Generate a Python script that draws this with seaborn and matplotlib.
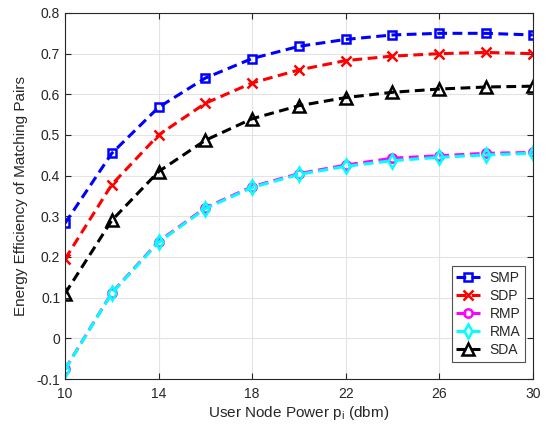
import numpy as np
import pandas as pd
import matplotlib
matplotlib.use("Agg")
import matplotlib.pyplot as plt
import seaborn as sns

power = [10, 12, 14, 16, 18, 20, 22, 24, 26, 28, 30]
smp = [0.283, 0.455, 0.568, 0.640, 0.688, 0.718, 0.735, 0.746, 0.750, 0.750, 0.746]
sdp = [0.195, 0.378, 0.500, 0.578, 0.628, 0.660, 0.683, 0.694, 0.700, 0.703, 0.700]
rmp = [-0.076, 0.112, 0.238, 0.321, 0.373, 0.405, 0.426, 0.443, 0.449, 0.455, 0.457]
rma = [-0.077, 0.111, 0.236, 0.319, 0.371, 0.403, 0.423, 0.437, 0.445, 0.451, 0.455]
sda = [0.110, 0.290, 0.410, 0.487, 0.540, 0.572, 0.592, 0.605, 0.613, 0.618, 0.620]

names = ["SMP", "SDP", "RMP", "RMA", "SDA"]
series = [smp, sdp, rmp, rma, sda]
colors = ["#0000ff", "#ff0000", "#ff00ff", "#00ffff", "#000000"]
markers = ["s", "x", "o", "d", "^"]
msizes = [6, 6.5, 6, 7, 8]

df = pd.concat(
    [pd.DataFrame({"power": power, "ee": v, "scheme": n}) for n, v in zip(names, series)],
    ignore_index=True,
)

sns.set_style("ticks")
plt.rcParams["font.family"] = ["Liberation Sans", "DejaVu Sans"]

fig = plt.figure(figsize=(5.51, 4.30), dpi=100)
ax = fig.add_axes([0.118, 0.1186, 0.849, 0.8512])

for n, c, m, ms in zip(names, colors, markers, msizes):
    sub = df[df["scheme"] == n]
    sns.lineplot(
        data=sub, x="power", y="ee", ax=ax, color=c, label=n,
        linestyle=(0, (3.2, 1.8)), linewidth=2.2,
        marker=m, markersize=ms, markerfacecolor="none",
        markeredgecolor=c, markeredgewidth=1.8, estimator=None,
    )

ax.set_xlim(10, 30)
ax.set_ylim(-0.1, 0.8)
ax.set_xticks([10, 14, 18, 22, 26, 30])
ax.set_yticks(np.round(np.arange(-0.1, 0.81, 0.1), 1))
ax.set_yticklabels(["-0.1", "0", "0.1", "0.2", "0.3", "0.4", "0.5", "0.6", "0.7", "0.8"])
ax.grid(True, color="#e3e3e3", linewidth=0.8)
ax.set_axisbelow(True)
for sp in ax.spines.values():
    sp.set_visible(True)
    sp.set_color("#262626")
    sp.set_linewidth(0.8)
ax.tick_params(direction="in", length=4, width=0.8, colors="#262626",
               labelsize=10, top=True, right=True, labelcolor="#262626")
ax.tick_params(axis="x", pad=6)

ax.set_xlabel(r"User Node Power p$_\mathregular{i}$ (dbm)", fontsize=11, color="#262626", labelpad=2)
ax.set_ylabel("Energy Efficiency of Matching Pairs", fontsize=11, color="#262626", labelpad=6)

leg = ax.legend(loc="lower right", bbox_to_anchor=(0.993, 0.036), fontsize=10,
                frameon=True, fancybox=False, edgecolor="#262626",
                handlelength=1.7, handletextpad=0.7, borderpad=0.35, labelspacing=0.28,
                borderaxespad=0.3)
leg.get_frame().set_linewidth(0.8)

fig.savefig("out.png", dpi=100)
